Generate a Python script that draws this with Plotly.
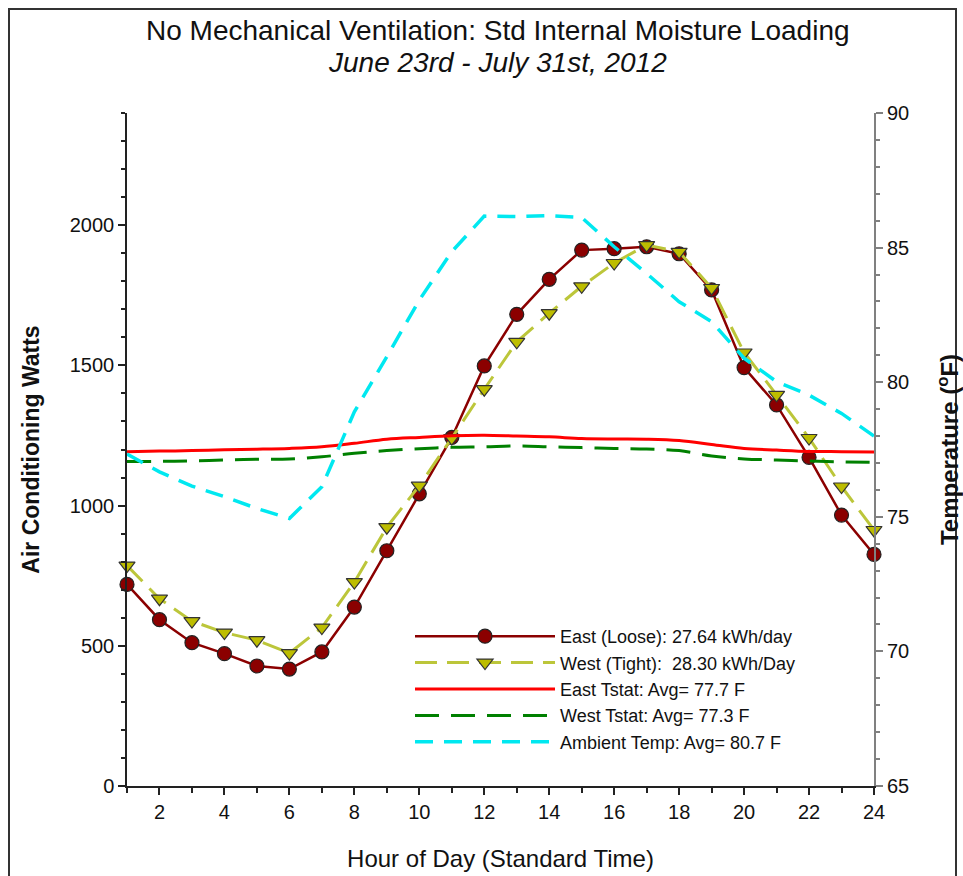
import plotly.graph_objects as go

hours = list(range(1, 25))

east_watts = [719, 593, 511, 472, 428, 417, 478, 638, 839, 1042, 1243, 1498,
              1682, 1807, 1911, 1916, 1923, 1898, 1769, 1492, 1359, 1172, 966, 826]
west_watts = [786, 668, 588, 547, 520, 474, 565, 727, 923, 1071, 1241, 1415,
              1584, 1686, 1782, 1865, 1929, 1905, 1776, 1546, 1395, 1241, 1068, 913]
east_tstat = [77.42, 77.44, 77.46, 77.49, 77.51, 77.54, 77.60, 77.73, 77.88, 77.95, 78.01, 78.03,
              78.00, 77.97, 77.91, 77.89, 77.88, 77.83, 77.69, 77.54, 77.48, 77.43, 77.42, 77.41]
west_tstat = [77.05, 77.06, 77.08, 77.11, 77.14, 77.15, 77.23, 77.36, 77.46, 77.53, 77.58, 77.60,
              77.63, 77.60, 77.57, 77.54, 77.52, 77.46, 77.26, 77.15, 77.11, 77.07, 77.04, 77.02]
ambient = [77.33, 76.67, 76.14, 75.75, 75.31, 74.94, 76.12, 78.9, 80.95, 83.05, 84.85, 86.17,
           86.15, 86.19, 86.12, 85.03, 84.04, 82.99, 82.25, 80.89, 80.02, 79.52, 78.84, 78.0]

names = ["East (Loose): 27.64 kWh/day",
         "West (Tight):  28.30 kWh/Day",
         "East Tstat: Avg= 77.7 F",
         "West Tstat: Avg= 77.3 F",
         "Ambient Temp: Avg= 80.7 F"]

FONT = "Liberation Sans, Arial, sans-serif"

fig = go.Figure()

fig.add_trace(go.Scatter(x=hours, y=east_tstat, name=names[2], yaxis="y2", mode="lines",
                         line=dict(color="#FF0000", width=3, shape="spline"), legendrank=3,
                         cliponaxis=False))
fig.add_trace(go.Scatter(x=hours, y=west_tstat, name=names[3], yaxis="y2", mode="lines",
                         line=dict(color="#008000", width=3, dash="24px,12px", shape="spline"),
                         legendrank=4, cliponaxis=False))
fig.add_trace(go.Scatter(x=hours, y=ambient, name=names[4], yaxis="y2", mode="lines",
                         line=dict(color="#00E8F0", width=3.5, dash="18px,11px"),
                         legendrank=5, cliponaxis=False))
fig.add_trace(go.Scatter(x=hours, y=east_watts, name=names[0], mode="lines+markers",
                         line=dict(color="#8B0000", width=2.5),
                         marker=dict(symbol="circle", size=14, color="#8B0000",
                                     line=dict(color="#222222", width=1.2)),
                         legendrank=1, cliponaxis=False))
fig.add_trace(go.Scatter(x=hours, y=west_watts, name=names[1], mode="lines+markers",
                         line=dict(color="#BCC63A", width=3, dash="22px,10px"),
                         marker=dict(symbol="triangle-down", size=14, color="#BDBD00",
                                     line=dict(color="#333333", width=1.2)),
                         legendrank=2, cliponaxis=False))

fig.update_layout(
    width=963, height=876,
    margin=dict(l=127, r=89, t=113, b=90, autoexpand=False),
    paper_bgcolor="white", plot_bgcolor="white",
    font=dict(family=FONT, size=20, color="#111111"),
    showlegend=True,
    legend=dict(x=(410 - 127) / 747, y=(786 - 618) / 673, xanchor="left", yanchor="top",
                bgcolor="rgba(0,0,0,0)", font=dict(size=18, family=FONT),
                itemwidth=140, tracegroupgap=0),
    xaxis=dict(range=[1, 24], tick0=2, dtick=2, ticks="outside", ticklen=7, tickwidth=1.5,
               tickcolor="#222", showline=True, linecolor="#222", linewidth=1.5,
               showgrid=False, zeroline=False, automargin=False,
               minor=dict(dtick=1, tick0=1, ticks="outside", ticklen=5, tickwidth=1.5, tickcolor="#222"),
               title=dict(text="Hour of Day (Standard Time)", font=dict(size=24), standoff=28),
               tickfont=dict(size=20)),
    xaxis2=dict(range=[1, 24], overlaying="x", side="top", anchor="y",
                tickvals=[3, 5, 7, 9, 11, 13, 15, 17, 19, 21, 23], ticks="inside", ticklen=5,
                tickwidth=1.5, tickcolor="#222", showticklabels=False, showline=True,
                linecolor="#222", linewidth=1.5, showgrid=False, zeroline=False, automargin=False),
    yaxis=dict(range=[0, 2400], dtick=500, ticks="outside", ticklen=7, tickwidth=1.5,
               tickcolor="#222", showline=True, linecolor="#222", linewidth=1.5,
               showgrid=False, zeroline=False, automargin=False,
               minor=dict(dtick=100, ticks="outside", ticklen=4, tickwidth=1.5, tickcolor="#222"),
               title=dict(text="<b>Air Conditioning Watts</b>", font=dict(size=23), standoff=24),
               tickfont=dict(size=20)),
    yaxis2=dict(range=[65, 90], dtick=5, overlaying="y", side="right", anchor="x",
                ticks="outside", ticklen=7, tickwidth=1.5, tickcolor="#808080",
                showline=True, linecolor="#808080", linewidth=2,
                showgrid=False, zeroline=False, automargin=False,
                minor=dict(dtick=1, ticks="outside", ticklen=4, tickwidth=1.5, tickcolor="#808080"),
                title=dict(text="<b>Temperature (<sup>o</sup>F)</b>", font=dict(size=24), standoff=36),
                tickfont=dict(size=20)),
    annotations=[
        dict(text="No Mechanical Ventilation: Std Internal Moisture Loading", xref="paper",
             yref="paper", x=0.4966, y=(786 - 30) / 673, xanchor="center", yanchor="middle",
             showarrow=False, font=dict(size=28, family=FONT, color="#111")),
        dict(text="<i>June 23rd - July 31st, 2012</i>", xref="paper",
             yref="paper", x=0.4966, y=(786 - 62) / 673, xanchor="center", yanchor="middle",
             showarrow=False, font=dict(size=28, family=FONT, color="#111")),
    ],
    shapes=[dict(type="rect", xref="paper", yref="paper",
                 x0=(9 - 127) / 747, x1=(956 - 127) / 747,
                 y0=(786 - 900) / 673, y1=(786 - 9) / 673,
                 line=dict(color="#333", width=2), fillcolor="rgba(0,0,0,0)", layer="below")],
)

fig.write_html("out.html", config={"displayModeBar": False},
               post_script="document.body.style.margin='0';")
